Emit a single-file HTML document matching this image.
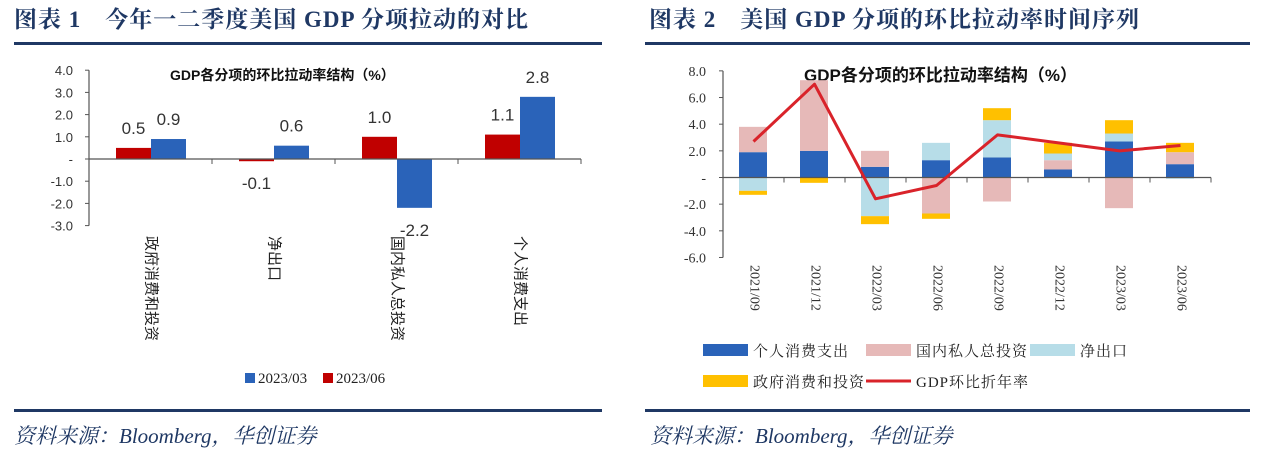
<!DOCTYPE html>
<html><head><meta charset="utf-8"><style>
html,body{margin:0;padding:0;background:#fff;}
body{width:1280px;height:454px;overflow:hidden;position:relative;}
svg{position:absolute;left:0;top:0;}
.ttl{font-family:"Liberation Serif","Noto Serif CJK SC",serif;font-weight:bold;font-size:23px;fill:#1f3864;letter-spacing:1px;}
.src{font-family:"Liberation Serif","Noto Serif CJK SC",serif;font-style:italic;font-size:21px;fill:#1f3864;}
.ct{font-family:"Liberation Sans","Noto Sans CJK SC",sans-serif;font-weight:bold;font-size:14px;fill:#111;}
.tk{font-family:"Liberation Sans",sans-serif;font-size:13px;fill:#333;}
.tks{font-family:"Liberation Serif",serif;font-size:14px;fill:#333;}
.dl{font-family:"Liberation Sans",sans-serif;font-size:17px;fill:#333;}
.cat{font-family:"Liberation Sans","Noto Sans CJK SC",sans-serif;font-size:15px;fill:#222;}
.lg{font-family:"Liberation Serif","Noto Serif CJK SC",serif;font-size:15px;fill:#222;}
</style></head><body>
<svg id="s" width="1280" height="454" xmlns="http://www.w3.org/2000/svg">
<text class="ttl" x="14" y="27">图表 1　今年一二季度美国 GDP 分项拉动的对比</text>
<rect x="14" y="42" width="588" height="3" fill="#1f3864"/>
<text class="ttl" x="649" y="27">图表 2　美国 GDP 分项的环比拉动率时间序列</text>
<rect x="645" y="42" width="605" height="3" fill="#1f3864"/>
<rect x="14" y="409" width="588" height="3" fill="#1f3864"/>
<rect x="645" y="409" width="605" height="3" fill="#1f3864"/>
<text class="src" x="14" y="443">资料来源：Bloomberg，华创证券</text>
<text class="src" x="650" y="443">资料来源：Bloomberg，华创证券</text>
<g id="c1">
<text class="ct" x="170" y="80">GDP各分项的环比拉动率结构（%）</text>
</g>
<g id="c2">
<text class="ct" x="804" y="81" style="font-size:17px">GDP各分项的环比拉动率结构（%）</text>
</g>
</svg>
<script>
// Chart 1 data
const cats1 = ["政府消费和投资","净出口","国内私人总投资","个人消费支出"];
const q2 = [0.5,-0.1,1.0,1.1];   // 2023/06 red
const q1 = [0.9,0.6,-2.2,2.8];   // 2023/03 blue
const ticks1 = [4,3,2,1,0,-1,-2,-3];
const tickLabels1 = ["4.0","3.0","2.0","1.0","-","-1.0","-2.0","-3.0"];
// Chart 2 data
const dates2 = ["2021/09","2021/12","2022/03","2022/06","2022/09","2022/12","2023/03","2023/06"];
const pce = [1.9,2.0,0.8,1.3,1.5,0.6,2.7,1.0];
const inv = [1.9,5.3,1.2,-2.7,-1.8,0.7,-2.3,0.9];
const nx  = [-1.0,0.0,-2.9,1.3,2.8,0.5,0.6,-0.1];
const gov = [-0.3,-0.4,-0.6,-0.4,0.9,0.8,1.0,0.7];
const gdp = [2.7,7.0,-1.6,-0.6,3.2,2.6,2.0,2.4];
const ticks2 = [8,6,4,2,0,-2,-4,-6];
const tickLabels2 = ["8.0","6.0","4.0","2.0","-","-2.0","-4.0","-6.0"];

const NS="http://www.w3.org/2000/svg";
function mk(parent,tag,attrs,txt){const e=document.createElementNS(NS,tag);for(const k in attrs)e.setAttribute(k,attrs[k]);if(txt!==undefined)e.textContent=txt;parent.appendChild(e);return e;}

// ---- chart 1 ----
const g1=document.getElementById('c1');
const X0=89, CW=123, Y0=159, U=22.2;
const y1=v=>Y0-v*U;
const x1=i=>X0+i*CW;
ticks1.forEach((t,i)=>{
  const tl=mk(g1,'text',{class:'tk',x:73,y:y1(t)+5,'text-anchor':'end'},tickLabels1[i]);
  
  
  mk(g1,'line',{x1:X0-4,x2:X0,y1:y1(t),y2:y1(t),stroke:'#555'});
});
const ax1=mk(g1,'line',{x1:X0,x2:X0,y1:y1(4),y2:y1(-3),stroke:'#555','stroke-width':1.2});


cats1.forEach((c,i)=>{
  const bx=x1(i)+27;
  [[q2[i],'#c00000',0,'bar-2023-06'],[q1[i],'#2a63b9',35,'bar-2023-03']].forEach(([v,col,off,nm])=>{
    const top=Math.min(y1(v),Y0),h=Math.abs(v)*U;
    const r=mk(g1,'rect',{x:bx+off,y:top,width:35,height:Math.max(h,1),fill:col});
    
    
    const ly=v>=0?y1(v)-14:y1(v)+28;
    const l=mk(g1,'text',{class:'dl',x:bx+off+17.5,y:ly,'text-anchor':'middle'},v.toFixed(1));
    
    
  });
  const cx=x1(i)+CW/2;
  const ct=mk(g1,'text',{class:'cat',x:cx,y:236,transform:`rotate(90 ${cx} 236)`,'dominant-baseline':'middle'},c);
  
  
  mk(g1,'line',{x1:x1(i+1),x2:x1(i+1),y1:Y0,y2:Y0+5,stroke:'#555'});
});
const xa1=mk(g1,'line',{x1:X0,x2:x1(4),y1:Y0,y2:Y0,stroke:'#555','stroke-width':1.2});


// legend 1
const lg1=mk(g1,'g',{});


mk(lg1,'rect',{x:245,y:373,width:10,height:10,fill:'#2a63b9'});
mk(lg1,'text',{class:'lg',x:258,y:383,'font-size':'14'},'2023/03');
mk(lg1,'rect',{x:323,y:373,width:10,height:10,fill:'#c00000'});
mk(lg1,'text',{class:'lg',x:336,y:383,'font-size':'14'},'2023/06');

// ---- chart 2 ----
const g2=document.getElementById('c2');
const X2=723, CW2=61, Z2=177.5, U2=13.33;
const y2=v=>Z2-v*U2;
const x2=i=>X2+i*CW2;
ticks2.forEach((t,i)=>{
  const tl=mk(g2,'text',{class:'tks',x:706,y:y2(t)+5,'text-anchor':'end'},tickLabels2[i]);
  
  
  mk(g2,'line',{x1:X2-4,x2:X2,y1:y2(t),y2:y2(t),stroke:'#555'});
});
const ax2=mk(g2,'line',{x1:X2,x2:X2,y1:y2(8),y2:y2(-6),stroke:'#555','stroke-width':1.2});


const series=[[pce,'#2a63b9','bar-pce'],[inv,'#e6b9b8','bar-private-investment'],[nx,'#b7dde8','bar-net-exports'],[gov,'#ffc000','bar-government']];
dates2.forEach((d,i)=>{
  let pos=0,neg=0;const bx=x2(i)+16;
  series.forEach(([arr,col,nm])=>{
    const v=arr[i];if(v===0)return;
    let top,h=Math.abs(v)*U2;
    if(v>0){top=y2(pos+v);pos+=v;}else{top=y2(neg);neg+=v;}
    const r=mk(g2,'rect',{x:bx,y:top,width:28,height:h,fill:col});
    
    
  });
  const cx=x2(i)+CW2/2;
  const ct=mk(g2,'text',{class:'tks',x:cx,y:265,transform:`rotate(90 ${cx} 265)`,'dominant-baseline':'middle','font-size':'15'},d);
  
  
  mk(g2,'line',{x1:x2(i+1),x2:x2(i+1),y1:Z2,y2:Z2+5,stroke:'#555'});
});
const xa2=mk(g2,'line',{x1:X2,x2:x2(8),y1:Z2,y2:Z2,stroke:'#555','stroke-width':1.2});


const pts=gdp.map((v,i)=>`${x2(i)+CW2/2},${y2(v)}`).join(' ');
const ln=mk(g2,'polyline',{points:pts,fill:'none',stroke:'#d9232a','stroke-width':3,'stroke-linejoin':'round'});


// legend 2
const lg2=mk(g2,'g',{});


[[703,344,'#2a63b9','个人消费支出'],[866,344,'#e6b9b8','国内私人总投资'],[1030,344,'#b7dde8','净出口'],[703,375,'#ffc000','政府消费和投资']].forEach(([x,y,c,t])=>{
  mk(lg2,'rect',{x:x,y:y,width:45,height:12,fill:c});
  mk(lg2,'text',{class:'lg',x:x+50,y:y+12,'letter-spacing':'1'},t);
});
mk(lg2,'line',{x1:866,x2:911,y1:381,y2:381,stroke:'#d9232a','stroke-width':3});
mk(lg2,'text',{class:'lg',x:916,y:387,'letter-spacing':'1'},'GDP环比折年率');
</script>
</body></html>
